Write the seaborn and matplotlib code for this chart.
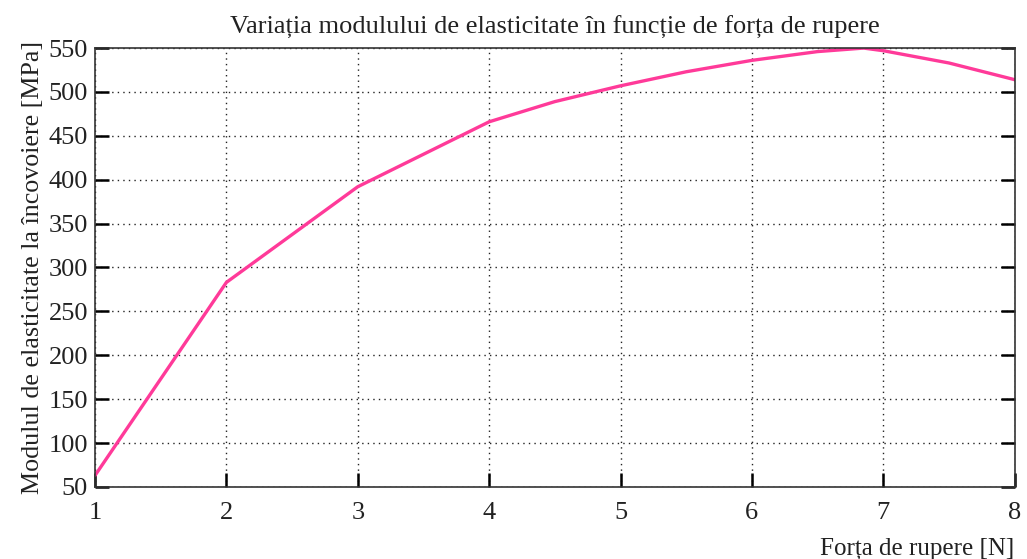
import numpy as np
import pandas as pd
import seaborn as sns
import matplotlib.pyplot as plt

# values
forta = [1, 2, 3, 4, 4.5, 5, 5.5, 6, 6.5, 6.85, 7, 7.5, 8]
modul = [63, 283, 392, 466, 489, 507, 523, 536, 546, 550, 547, 533, 514]
xticks = [1, 2, 3, 4, 5, 6, 7, 8]
yticks = [50, 100, 150, 200, 250, 300, 350, 400, 450, 500, 550]

sns.set_style('white')
plt.rcParams['font.family'] = ['Liberation Serif', 'DejaVu Serif']

df = pd.DataFrame({'forta': forta, 'modul': modul})

fig = plt.figure(figsize=(10.27, 5.59), dpi=100)
ax = fig.add_axes([0.0925, 0.129, 0.8955, 0.785])

sns.lineplot(data=df, x='forta', y='modul', color='#ff3a99', lw=2.4, ax=ax)

ax.set_xlim(1, 8)
ax.set_ylim(50, 550)
ax.set_xticks(xticks)
ax.set_yticks(yticks)
ax.grid(True, color='#222222', linestyle=(0, (1, 3)), lw=1.0)

ax.tick_params(axis='both', direction='in', length=10, width=1.8, labelsize=19,
               colors='black', labelcolor='#222222')
ax.tick_params(axis='y', right=True, left=True, pad=5)
ax.tick_params(axis='x', bottom=True, top=False, pad=11)
for s in ax.spines.values():
    s.set_color('#333333')
    s.set_linewidth(1.2)

ax.set_title('Variația modulului de elasticitate în funcție de forța de rupere',
             fontsize=19, color='#222222', pad=10)
ax.set_xlabel('Forța de rupere [N]', fontsize=18, loc='right', labelpad=10,
              color='#222222')
ax.set_ylabel('Modulul de elasticitate la încovoiere [MPa]', fontsize=18.7,
              labelpad=3, color='#222222')

plt.savefig('out.png', dpi=100)
